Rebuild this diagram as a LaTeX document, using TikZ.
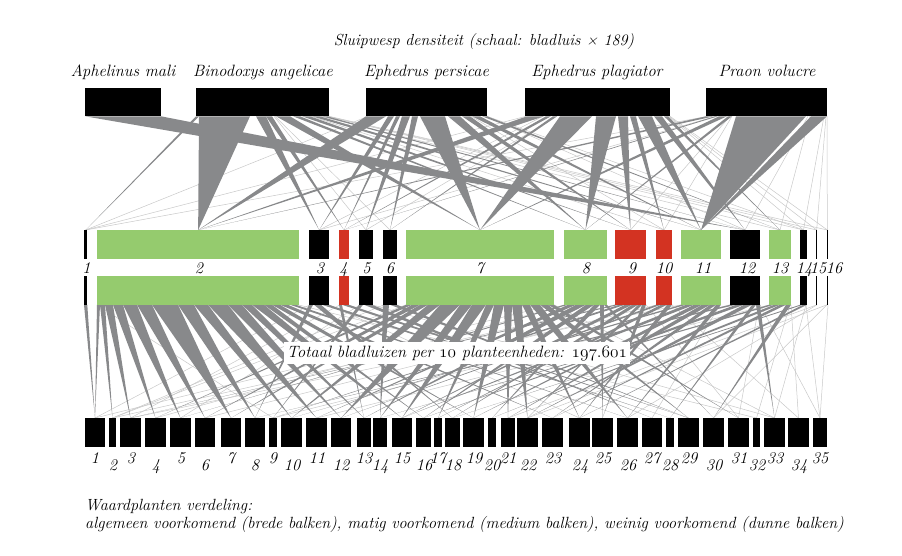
\documentclass[tikz,border=0pt]{standalone}
\usepackage{fontspec}
\definecolor{barGreen}{RGB}{149,203,110}
\definecolor{barRed}{RGB}{211,51,34}
\definecolor{linkGray}{RGB}{136,137,139}
\definecolor{faintGray}{RGB}{200,200,200}
\pgfdeclarelayer{bg}
\pgfsetlayers{bg,main}
\tikzset{
  barbox/.style={inner sep=0pt, outer sep=0pt, draw=none},
  lab/.style={font=\fontsize{16.4}{19}\selectfont\itshape, inner sep=0pt, anchor=base},
  smalllab/.style={lab, font=\fontsize{16}{19}\selectfont\itshape},
  leglab/.style={lab, font=\fontsize{16.2}{19}\selectfont\itshape, anchor=base west},
  linkfill/.style={fill=linkGray},
  faint/.style={draw=faintGray, line width=0.5pt},
}
% name, x1, x2, y1, y2, colour
\newcommand\mkbar[6]{\node[barbox, fill=#6, minimum width={(#3)-(#2)}, minimum height={(#5)-(#4)}] (#1) at ({((#2)+(#3))/2},{((#4)+(#5))/2}) {};}
\newcommand\uplink[3]{\fill[linkfill] (#1,116.3) -- (#2,116.3) -- (A#3.north) -- cycle;}
\newcommand\lowlink[3]{\fill[linkfill] (#1,304.8) -- (#2,304.8) -- (H#3.north) -- cycle;}
\newcommand\upthin[2]{\draw[faint] (#1,116.3) -- (A#2.north);}
\newcommand\lowthin[2]{\draw[faint] (#1,304.8) -- (H#2.north);}
\begin{document}
\begin{tikzpicture}[x=1pt,y=-1pt]
\useasboundingbox (0,0) rectangle (902,556);
% ---------- parasitoid bars ----------
\mkbar{P1}{85}{161}{88}{116.5}{black}
\mkbar{P2}{196}{329}{88}{116.5}{black}
\mkbar{P3}{366}{487}{88}{116.5}{black}
\mkbar{P4}{525}{670}{88}{116.5}{black}
\mkbar{P5}{706}{827}{88}{116.5}{black}
% ---------- aphid bars (upper row A, lower row B) ----------
\mkbar{A1}{84}{87.3}{230}{259}{black}      \mkbar{B1}{84}{87.3}{276}{305}{black}
\mkbar{A2}{97}{299.3}{230}{259}{barGreen}  \mkbar{B2}{97}{299.3}{276}{305}{barGreen}
\mkbar{A3}{309.3}{329}{230}{259}{black}    \mkbar{B3}{309.3}{329}{276}{305}{black}
\mkbar{A4}{339}{349}{230}{259}{barRed}     \mkbar{B4}{339}{349}{276}{305}{barRed}
\mkbar{A5}{359.3}{372.7}{230}{259}{black}  \mkbar{B5}{359.3}{372.7}{276}{305}{black}
\mkbar{A6}{383.3}{396.7}{230}{259}{black}  \mkbar{B6}{383.3}{396.7}{276}{305}{black}
\mkbar{A7}{406}{554}{230}{259}{barGreen}   \mkbar{B7}{406}{554}{276}{305}{barGreen}
\mkbar{A8}{564}{607}{230}{259}{barGreen}   \mkbar{B8}{564}{607}{276}{305}{barGreen}
\mkbar{A9}{615}{646}{230}{259}{barRed}     \mkbar{B9}{615}{646}{276}{305}{barRed}
\mkbar{A10}{656}{672}{230}{259}{barRed}    \mkbar{B10}{656}{672}{276}{305}{barRed}
\mkbar{A11}{681}{721}{230}{259}{barGreen}  \mkbar{B11}{681}{721}{276}{305}{barGreen}
\mkbar{A12}{730}{760}{230}{259}{black}     \mkbar{B12}{730}{760}{276}{305}{black}
\mkbar{A13}{769}{791}{230}{259}{barGreen}  \mkbar{B13}{769}{791}{276}{305}{barGreen}
\mkbar{A14}{800}{807}{230}{259}{black}     \mkbar{B14}{800}{807}{276}{305}{black}
\mkbar{A15}{816}{817.3}{230}{259}{black}   \mkbar{B15}{816}{817.3}{276}{305}{black}
\mkbar{A16}{826.7}{828}{230}{259}{black}   \mkbar{B16}{826.7}{828}{276}{305}{black}
% ---------- host plant bars ----------
\mkbar{H1}{85}{105}{418}{447}{black}
\mkbar{H2}{109}{116}{418}{447}{black}
\mkbar{H3}{120}{141}{418}{447}{black}
\mkbar{H4}{145}{166}{418}{447}{black}
\mkbar{H5}{170}{191}{418}{447}{black}
\mkbar{H6}{195}{215}{418}{447}{black}
\mkbar{H7}{221}{241}{418}{447}{black}
\mkbar{H8}{245}{265}{418}{447}{black}
\mkbar{H9}{269}{277}{418}{447}{black}
\mkbar{H10}{281}{302}{418}{447}{black}
\mkbar{H11}{306}{327}{418}{447}{black}
\mkbar{H12}{331}{351}{418}{447}{black}
\mkbar{H13}{357}{371}{418}{447}{black}
\mkbar{H14}{373}{387}{418}{447}{black}
\mkbar{H15}{392}{412}{418}{447}{black}
\mkbar{H16}{416}{431}{418}{447}{black}
\mkbar{H17}{434}{442}{418}{447}{black}
\mkbar{H18}{445}{460}{418}{447}{black}
\mkbar{H19}{463}{484}{418}{447}{black}
\mkbar{H20}{488}{496}{418}{447}{black}
\mkbar{H21}{501}{515}{418}{447}{black}
\mkbar{H22}{517}{538}{418}{447}{black}
\mkbar{H23}{542}{563}{418}{447}{black}
\mkbar{H24}{569}{590}{418}{447}{black}
\mkbar{H25}{592}{613}{418}{447}{black}
\mkbar{H26}{617}{638}{418}{447}{black}
\mkbar{H27}{642}{662}{418}{447}{black}
\mkbar{H28}{666}{674}{418}{447}{black}
\mkbar{H29}{678}{699}{418}{447}{black}
\mkbar{H30}{703}{724}{418}{447}{black}
\mkbar{H31}{728}{749}{418}{447}{black}
\mkbar{H32}{753}{760}{418}{447}{black}
\mkbar{H33}{764}{785}{418}{447}{black}
\mkbar{H34}{788}{809}{418}{447}{black}
\mkbar{H35}{813}{827}{418}{447}{black}

\begin{pgfonlayer}{bg}
% ---------- faint (weak) links, upper part ----------
\upthin{526}{1} \upthin{368}{1} \upthin{708}{1}
\upthin{327}{14} \upthin{328}{15} \upthin{329}{16}
\upthin{668}{14} \upthin{669}{15} \upthin{670}{16}
\upthin{826}{15} \upthin{827}{16} \upthin{486}{12} \upthin{487}{14}
\upthin{274}{5} \upthin{275}{6} \upthin{311}{10} \upthin{321}{13}
\upthin{471}{10} \upthin{716}{3} \upthin{732}{10} \upthin{730}{9}
\upthin{543}{3} \upthin{557}{5} \upthin{808}{12} \upthin{810}{13} \upthin{824}{14}
% ---------- faint links, lower part ----------
\lowthin{553}{1} \lowthin{615}{2} \lowthin{681}{3} \lowthin{720}{27}
\lowthin{759}{31} \lowthin{790}{32} \lowthin{791}{34} \lowthin{806}{33}
\lowthin{806}{35} \lowthin{817}{26} \lowthin{827}{30} \lowthin{828}{35}
\lowthin{817}{21} \lowthin{827}{22} \lowthin{760}{35} \lowthin{298}{32}
\lowthin{97}{9} \lowthin{329}{24} \lowthin{372}{33} \lowthin{406}{2}
\lowthin{646}{31} \lowthin{672}{34} \lowthin{554}{33} \lowthin{310}{1}
\lowthin{340}{3} \lowthin{360}{5} \lowthin{384}{2} \lowthin{565}{4}
\lowthin{657}{6} \lowthin{730}{9} \lowthin{770}{11}
% ---------- parasitoid -> aphid links ----------
\uplink{85}{161}{12}
\uplink{196}{199}{1}  \uplink{199}{250}{2}  \uplink{256}{266}{3}
\uplink{266}{272}{4}  \uplink{276}{290}{7}  \uplink{293}{300}{8}
\uplink{302}{310}{9}  \uplink{312}{320}{11} \uplink{322}{327}{12}
\uplink{366}{386}{2}  \uplink{388}{394}{3}  \uplink{396}{400}{4}
\uplink{402}{410}{5}  \uplink{412}{418}{6}  \uplink{420}{445}{7}
\uplink{448}{460}{8}  \uplink{462}{470}{9}  \uplink{472}{480}{11}
\uplink{482}{487}{13}
\uplink{527}{544}{2}  \uplink{546}{551}{4}  \uplink{553}{557}{6}
\uplink{560}{592}{7}  \uplink{596}{616}{8}  \uplink{618}{628}{9}
\uplink{630}{636}{10} \uplink{638}{652}{11} \uplink{654}{662}{12}
\uplink{664}{668}{13}
\uplink{706}{714}{2}  \uplink{715}{718}{4}  \uplink{719}{727}{7}
\uplink{728}{732}{8}  \uplink{736}{806}{11} \uplink{811}{827}{11}
% ---------- aphid -> host plant links ----------
\lowlink{84}{87.3}{1}
\lowlink{97}{100}{1}   \lowlink{100}{105}{2}  \lowlink{105}{113}{3}
\lowlink{113}{123}{4}  \lowlink{123}{137}{5}  \lowlink{137}{152}{6}
\lowlink{152}{178}{7}  \lowlink{178}{194}{8}  \lowlink{194}{208}{10}
\lowlink{208}{228}{11} \lowlink{228}{242}{12} \lowlink{242}{252}{13}
\lowlink{252}{264}{15} \lowlink{264}{272}{16} \lowlink{272}{280}{19}
\lowlink{280}{288}{23} \lowlink{290}{296}{26}
\lowlink{309}{313}{8}  \lowlink{314}{321}{18} \lowlink{322}{329}{28}
\lowlink{339}{342}{13} \lowlink{342}{349}{29}
\lowlink{359}{363}{9}  \lowlink{364}{372}{27}
\lowlink{383}{389}{14} \lowlink{390}{397}{29}
\lowlink{406}{412}{4}  \lowlink{412}{420}{6}  \lowlink{420}{428}{7}
\lowlink{428}{440}{10} \lowlink{440}{460}{12} \lowlink{460}{472}{14}
\lowlink{472}{486}{15} \lowlink{486}{494}{17} \lowlink{494}{504}{19}
\lowlink{504}{512}{21} \lowlink{512}{522}{22} \lowlink{522}{530}{24}
\lowlink{530}{540}{26} \lowlink{540}{548}{29} \lowlink{548}{554}{31}
\lowlink{564}{568}{5}  \lowlink{568}{576}{11} \lowlink{576}{586}{13}
\lowlink{586}{594}{16} \lowlink{594}{600}{20} \lowlink{600}{604}{25}
\lowlink{604}{607}{30}
\lowlink{615}{619}{3}  \lowlink{619}{625}{9}  \lowlink{625}{632}{15}
\lowlink{632}{638}{18} \lowlink{638}{642}{22} \lowlink{642}{646}{25}
\lowlink{656}{661}{12} \lowlink{661}{667}{17} \lowlink{667}{672}{24}
\lowlink{681}{686}{10} \lowlink{686}{694}{15} \lowlink{694}{702}{19}
\lowlink{702}{710}{21} \lowlink{710}{716}{23} \lowlink{716}{721}{26}
\lowlink{730}{736}{8}  \lowlink{736}{744}{16} \lowlink{744}{752}{22}
\lowlink{752}{756}{28} \lowlink{756}{760}{33}
\lowlink{769}{774}{14} \lowlink{774}{780}{20} \lowlink{780}{786}{23}
\lowlink{786}{791}{30}
\lowlink{800}{803}{18} \lowlink{803}{807}{24}
\end{pgfonlayer}

% ---------- texts ----------
\node[smalllab] (title) at (484,46) {Sluipwesp densiteit (schaal: bladluis × 189)};
\node[lab] (n1) at (123,77) {Aphelinus mali};
\node[lab] (n2) at (263,77) {Binodoxys angelicae};
\node[lab] (n3) at (426.5,77) {Ephedrus persicae};
\node[lab] (n4) at (597,77) {Ephedrus plagiator};
\node[lab] (n5) at (767,77) {Praon volucre};
% aphid numbers
\foreach \n/\x in {1/86.5,2/199,3/320,4/343.5,5/366.5,6/390,7/480,8/586,9/632,10/664,11/703,12/747,13/780,14/804,15/818,16/834}
  \node[lab] (al\n) at (\x,273) {\n};
% plant numbers
\foreach \n/\x/\y in {1/95/463,2/113/470,3/131/463,4/156/470,5/181/463,6/205/470,7/231/463,8/255/470,9/273/463,10/292/470,11/317/463,12/341/470,13/364/463,14/380/470,15/402/463,16/424/470,17/438/463,18/453/470,19/474/463,20/492/470,21/508/463,22/528/470,23/553/463,24/580/470,25/603/463,26/628/470,27/652/463,28/670/470,29/689/463,30/714/470,31/739/463,32/757/470,33/775/463,34/799/470,35/820/463}
  \node[lab] (hl\n) at (\x,\y) {\n};
% total label
\node[lab, fill=white, inner xsep=3pt, inner ysep=4pt] (total) at (457,357) {Totaal bladluizen per $\mathnormal{10}$ planteenheden: $\mathnormal{197.601}$};
% legend
\node[leglab] (leg1) at (85,510) {Waardplanten verdeling:};
\node[leglab] (leg2) at (85,528) {algemeen voorkomend (brede balken), matig voorkomend (medium balken), weinig voorkomend (dunne balken)};
\end{tikzpicture}
\end{document}
